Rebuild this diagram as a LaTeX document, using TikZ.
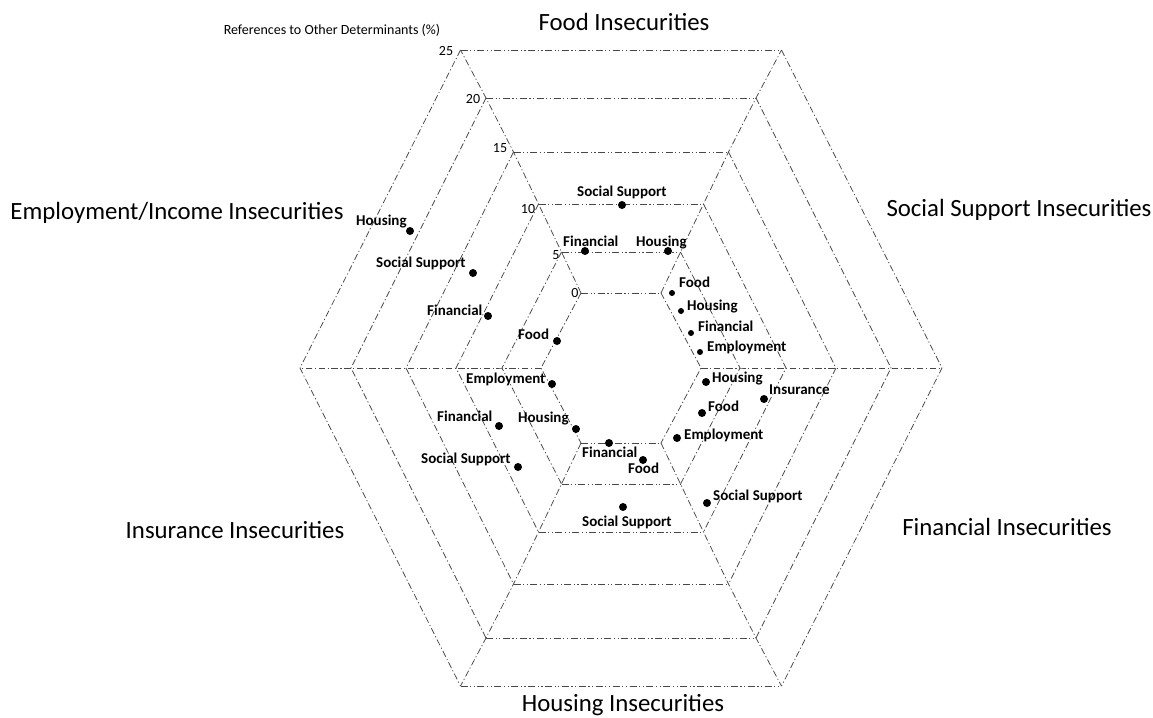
\documentclass[tikz,border=0pt]{standalone}
\usepackage{fontspec}
\setmainfont{Carlito}
\begin{document}
\begin{tikzpicture}[x=1pt,y=-1pt,
  hline/.style={draw=black!72, line width=0.75pt, dash pattern=on 7pt off 2.5pt on 1.2pt off 2.5pt on 1.2pt off 2.5pt},
  sline/.style={draw=black!72, line width=0.75pt, dash pattern=on 6.5pt off 2.5pt on 1.2pt off 2.5pt},
  dot/.style={circle, fill=black, inner sep=0pt, minimum size=8pt},
  sdot/.style={circle, fill=black, inner sep=0pt, minimum size=6pt},
  lab/.style={font=\bfseries\fontsize{15}{15}\selectfont, inner sep=0pt, anchor=base west},
  cat/.style={font=\fontsize{24.8}{25}\selectfont, inner sep=0pt},
  tick/.style={font=\fontsize{14}{14}\selectfont, inner sep=0pt}
]
\fill[white] (0,0) rectangle (1153,717);
\useasboundingbox (0,0) rectangle (1153,717);

% rings
\foreach \n/\r/\h in {0/80/75, 5/119/116, 10/165/164, 15/215/216, 20/270/270, 25/321/318}{
  \coordinate (r\n-E)  at ({621+\r},368);
  \coordinate (r\n-W)  at ({621-\r},368);
  \coordinate (r\n-NE) at ({621+\r/2},{368-\h});
  \coordinate (r\n-NW) at ({621-\r/2},{368-\h});
  \coordinate (r\n-SE) at ({621+\r/2},{368+\h});
  \coordinate (r\n-SW) at ({621-\r/2},{368+\h});
  \draw[hline] (r\n-NW) -- (r\n-NE);
  \draw[hline] (r\n-SW) -- (r\n-SE);
  \draw[sline] (r\n-NE) -- (r\n-E) -- (r\n-SE);
  \draw[sline] (r\n-NW) -- (r\n-W) -- (r\n-SW);
}
% radial axes
\foreach \d in {E,NE,NW,W,SW,SE}{
  \draw[sline] (r0-\d) -- (r5-\d) -- (r10-\d) -- (r15-\d) -- (r20-\d) -- (r25-\d);
}

% tick labels
\node[tick] (t25) at (446,51) {25};
\node[tick] (t20) at (473,99) {20};
\node[tick] (t15) at (500,148) {15};
\node[tick] (t10) at (528,209) {10};
\node[tick] (t5)  at (556,255) {5};
\node[tick] (t0)  at (575,293) {0};

% axis title
\node[font=\fontsize{14}{14}\selectfont, inner sep=0pt] (ttl) at (332,30) {References to Other Determinants (\%)};

% category labels
\node[cat] (cFood) at (624,22) {Food Insecurities};
\node[cat] (cSoc)  at (1019,210) {Social Support Insecurities};
\node[cat] (cFin)  at (1007,527) {Financial Insecurities};
\node[cat, anchor=base] (cHou) at (623,711) {Housing Insecurities};
\node[cat] (cIns)  at (235,530) {Insurance Insecurities};
\node[cat] (cEmp)  at (177,213) {Employment/Income Insecurities};

% data points
\node[dot]  (a) at (622,205) {};
\node[dot]  (b) at (585,251) {};
\node[dot]  (c) at (668,251) {};
\node[sdot] (d) at (672,293) {};
\node[sdot] (e) at (681,311) {};
\node[sdot] (f) at (691,333) {};
\node[sdot] (g) at (700,352) {};
\node[dot]  (h) at (706,382) {};
\node[dot]  (i) at (764,399) {};
\node[dot]  (j) at (702,413) {};
\node[dot]  (k) at (677,438) {};
\node[dot]  (l) at (609,443) {};
\node[dot]  (m) at (643,460) {};
\node[dot]  (n) at (623,507) {};
\node[dot]  (o) at (707,503) {};
\node[dot]  (p) at (488,316) {};
\node[dot]  (q) at (557,341) {};
\node[dot]  (r) at (552,384) {};
\node[dot]  (s) at (499,426) {};
\node[dot]  (t) at (576,429) {};
\node[dot]  (u) at (518,467) {};
\node[dot]  (v) at (410,231) {};
\node[dot]  (w) at (473,273) {};

% data labels
\node[lab] (la) at (577,196) {Social Support};
\node[lab] (lb) at (563,246) {Financial};
\node[lab] (lc) at (636,246) {Housing};
\node[lab] (ld) at (679,287) {Food};
\node[lab] (le) at (687,310) {Housing};
\node[lab] (lf) at (698,331) {Financial};
\node[lab] (lg) at (707,351) {Employment};
\node[lab] (lh) at (712,382) {Housing};
\node[lab] (li) at (769,394) {Insurance};
\node[lab] (lj) at (708,411) {Food};
\node[lab] (lk) at (684,439) {Employment};
\node[lab] (ll) at (582,457) {Financial};
\node[lab] (lm) at (628,473) {Food};
\node[lab] (ln) at (582,526) {Social Support};
\node[lab] (lo) at (713,500) {Social Support};
\node[lab] (lp) at (427,315) {Financial};
\node[lab] (lq) at (518,339) {Food};
\node[lab] (lr) at (466,383) {Employment};
\node[lab] (ls) at (437,421) {Financial};
\node[lab] (lt) at (518,422) {Housing};
\node[lab] (lu) at (421,463) {Social Support};
\node[lab] (lv) at (356,225) {Housing};
\node[lab] (lw) at (376,267) {Social Support};
\end{tikzpicture}
\end{document}
